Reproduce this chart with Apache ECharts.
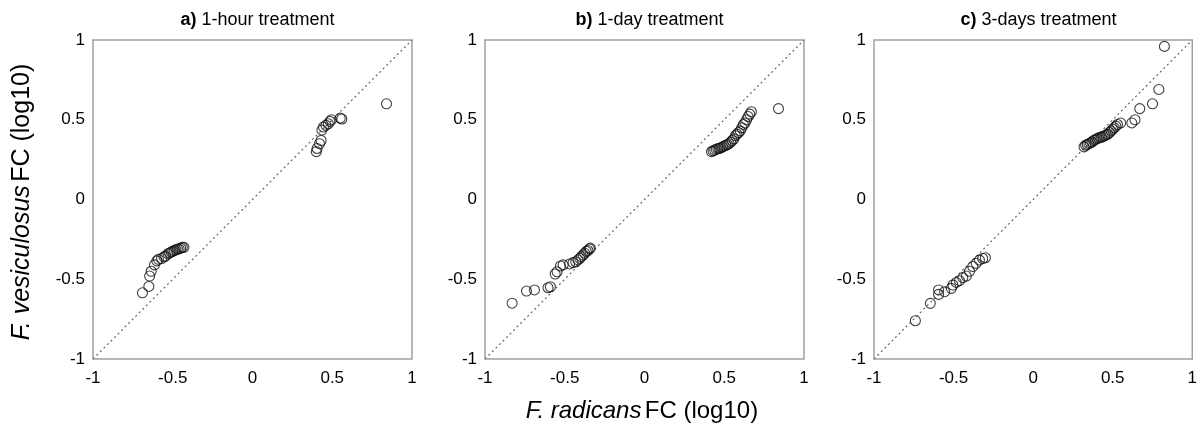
<!DOCTYPE html>
<html>
<head>
<meta charset="utf-8">
<script src="https://cdn.jsdelivr.net/npm/echarts@6/dist/echarts.min.js"></script>
<style>
html,body{margin:0;padding:0;background:#fff;}
#chart{width:1200px;height:436px;}
</style>
</head>
<body>
<div id="chart"></div>
<script>
// ---- data ----
const panelTitlesBold = ['a)', 'b)', 'c)'];
const panelTitles = ['1-hour treatment', '1-day treatment', '3-days treatment'];
const tickValues = [-1, -0.5, 0, 0.5, 1];
const diagonal = [[-1, -1], [1, 1]];

const pointsA = [
  [-0.69,-0.585],[-0.65,-0.545],[-0.645,-0.48],[-0.635,-0.45],[-0.615,-0.41],[-0.60,-0.385],
  [-0.59,-0.375],[-0.57,-0.37],[-0.555,-0.36],[-0.545,-0.355],[-0.53,-0.34],[-0.52,-0.335],
  [-0.51,-0.33],[-0.50,-0.325],[-0.49,-0.32],[-0.48,-0.315],[-0.47,-0.31],[-0.46,-0.31],
  [-0.45,-0.305],[-0.44,-0.30],[-0.43,-0.30],
  [0.40,0.30],[0.405,0.32],[0.42,0.35],[0.43,0.37],[0.435,0.435],[0.445,0.455],[0.46,0.465],
  [0.475,0.475],[0.485,0.49],[0.495,0.50],[0.55,0.51],[0.56,0.505],[0.84,0.60]
];
const pointsB = [
  [-0.83,-0.65],[-0.74,-0.574],[-0.69,-0.567],[-0.605,-0.553],[-0.59,-0.547],[-0.56,-0.467],
  [-0.548,-0.453],[-0.527,-0.417],[-0.51,-0.41],[-0.47,-0.404],[-0.448,-0.396],[-0.431,-0.39],
  [-0.417,-0.379],[-0.406,-0.369],[-0.396,-0.358],[-0.385,-0.348],[-0.375,-0.337],[-0.365,-0.325],
  [-0.355,-0.32],[-0.345,-0.31],[-0.34,-0.305],
  [0.42,0.30],[0.43,0.305],[0.44,0.31],[0.45,0.315],[0.46,0.32],[0.47,0.32],[0.48,0.325],
  [0.49,0.33],[0.50,0.335],[0.51,0.34],[0.52,0.345],[0.53,0.35],[0.54,0.36],[0.55,0.37],
  [0.56,0.38],[0.57,0.40],[0.58,0.41],[0.59,0.42],[0.60,0.43],[0.61,0.45],[0.62,0.47],
  [0.63,0.48],[0.64,0.50],[0.65,0.52],[0.66,0.535],[0.67,0.55],[0.84,0.57]
];
const pointsC = [
  [-0.74,-0.76],[-0.646,-0.651],[-0.594,-0.595],[-0.594,-0.567],[-0.556,-0.578],[-0.514,-0.557],
  [-0.504,-0.536],[-0.483,-0.52],[-0.4625,-0.509],[-0.442,-0.49],[-0.42,-0.48],[-0.40,-0.45],
  [-0.379,-0.42],[-0.358,-0.40],[-0.3375,-0.38],[-0.317,-0.37],[-0.30,-0.365],
  [0.32,0.33],[0.33,0.34],[0.34,0.345],[0.35,0.35],[0.36,0.355],[0.37,0.36],[0.38,0.37],
  [0.39,0.375],[0.40,0.38],[0.41,0.385],[0.42,0.39],[0.43,0.39],[0.44,0.395],[0.45,0.40],
  [0.46,0.405],[0.47,0.41],[0.48,0.42],[0.49,0.43],[0.50,0.44],[0.51,0.45],[0.52,0.46],
  [0.53,0.47],[0.55,0.48],[0.62,0.48],[0.64,0.50],[0.67,0.57],[0.75,0.60],[0.79,0.69],[0.825,0.96]
];
const allPoints = [pointsA, pointsB, pointsC];

// ---- layout ----
const gridLefts = [93, 485, 874];
const gridTop = 40, gridSize = 319;
const FONT = '"Liberation Sans", Arial, Helvetica, sans-serif';

const chart = echarts.init(document.getElementById('chart'), null, {renderer: 'canvas'});

const grids = [], xAxes = [], yAxes = [], series = [], titles = [];
allPoints.forEach((pts, i) => {
  grids.push({left: gridLefts[i], top: gridTop, width: gridSize, height: gridSize,
    show: true, borderColor: '#a0a0a0', borderWidth: 1.5, backgroundColor: 'transparent'});
  const axisCommon = {
    gridIndex: i, type: 'value', min: -1, max: 1, interval: 0.5,
    axisLine: {show: false}, axisTick: {show: false}, splitLine: {show: false},
    axisLabel: {color: '#000', fontSize: 17, fontFamily: FONT,
      formatter: v => tickValues.includes(v) ? String(v) : ''}
  };
  xAxes.push(Object.assign({}, axisCommon, {axisLabel: Object.assign({}, axisCommon.axisLabel, {margin: 11})}));
  yAxes.push(Object.assign({}, axisCommon, {axisLabel: Object.assign({}, axisCommon.axisLabel, {margin: 8})}));
  series.push({
    type: 'line', xAxisIndex: i, yAxisIndex: i, data: diagonal, symbol: 'none', silent: true,
    lineStyle: {color: '#666', width: 1.2, type: [2, 3]}, z: 1
  });
  series.push({
    type: 'scatter', xAxisIndex: i, yAxisIndex: i, data: pts, symbol: 'circle', symbolSize: 10,
    itemStyle: {color: 'rgba(255,255,255,0)', borderColor: '#111', borderWidth: 1.1}, z: 2
  });
  titles.push({
    text: '{b|' + panelTitlesBold[i] + '} {n|' + panelTitles[i] + '}',
    left: gridLefts[i] + gridSize / 2, top: 6, textAlign: 'center',
    textStyle: {fontWeight: 'normal', fontSize: 18, fontFamily: FONT, rich: {
      b: {fontSize: 18, fontWeight: 'bold', fontFamily: FONT, color: '#000'},
      n: {fontSize: 18, fontWeight: 'normal', fontFamily: FONT, color: '#000'}
    }}
  });
});

chart.setOption({
  animation: false,
  backgroundColor: '#fff',
  title: titles,
  grid: grids,
  xAxis: xAxes,
  yAxis: yAxes,
  series: series,
  graphic: [
    {type: 'text', x: 642, y: 411,
      style: {text: '{i|F. radicans} {n|FC (log10)}', fill: '#000', align: 'center', verticalAlign: 'middle',
        rich: {i: {fontSize: 24, fontStyle: 'italic', fontFamily: FONT}, n: {fontSize: 24, fontFamily: FONT}}}},
    {type: 'text', x: 22, y: 202, rotation: Math.PI / 2,
      style: {text: '{i|F. vesiculosus} {n|FC (log10)}', fill: '#000', align: 'center', verticalAlign: 'middle',
        rich: {i: {fontSize: 25, fontStyle: 'italic', fontFamily: FONT}, n: {fontSize: 25, fontFamily: FONT}}}}
  ]
});
</script>
</body>
</html>
